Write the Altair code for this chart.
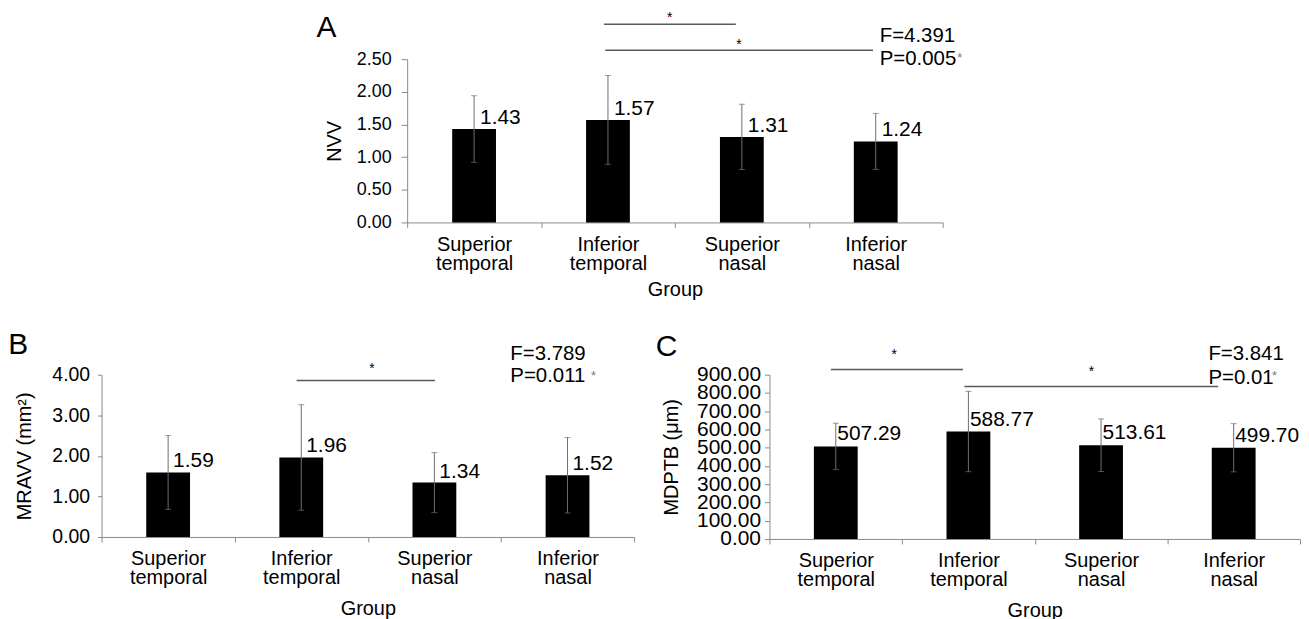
import altair as alt
import pandas as pd

FONT = "Liberation Sans"
GRAY_AXIS = "#8a8a8a"
GRAY_ERR = "#6e6e6e"
GRAY_SIG = "#5a5a5a"

CATS = ["Superior temporal", "Inferior temporal", "Superior nasal", "Inferior nasal"]

# Panel A: NVV
A_MEAN = [1.43, 1.57, 1.31, 1.24]
A_SD = [0.51, 0.68, 0.50, 0.43]
A_TICKS = [0.0, 0.5, 1.0, 1.5, 2.0, 2.5]
A_STATS = ["F=4.391", "P=0.005"]
A_PAIRS = [("Inferior temporal", "Superior nasal"), ("Inferior temporal", "Inferior nasal")]

# Panel B: MRAVV
B_MEAN = [1.59, 1.96, 1.34, 1.52]
B_SD = [0.91, 1.30, 0.74, 0.93]
B_TICKS = [0.0, 1.0, 2.0, 3.0, 4.0]
B_STATS = ["F=3.789", "P=0.011"]
B_PAIRS = [("Inferior temporal", "Superior nasal")]

# Panel C: MDPTB
C_MEAN = [507.29, 588.77, 513.61, 499.70]
C_SD = [127.0, 220.0, 144.0, 132.0]
C_TICKS = [0, 100, 200, 300, 400, 500, 600, 700, 800, 900]
C_STATS = ["F=3.841", "P=0.01"]
C_PAIRS = [("Superior temporal", "Inferior temporal"), ("Inferior temporal", "Inferior nasal")]


def panel(letter, means, sds, ticks, ytitle, pairs, stats, lay):
    df = pd.DataFrame({
        "cat": CATS,
        "mean": means,
        "lo": [m - s for m, s in zip(means, sds)],
        "hi": [m + s for m, s in zip(means, sds)],
    })
    xscale = alt.Scale(domain=CATS, paddingInner=0, paddingOuter=0)
    yscale = alt.Scale(domain=[ticks[0], ticks[-1]], nice=False)
    xaxis = alt.Axis(tickBand="extent", labelExpr="split(datum.label, ' ')", labelAngle=0,
                     labelFontSize=20, labelLineHeight=19, labelPadding=7, tickSize=5,
                     tickColor=GRAY_AXIS, domainColor=GRAY_AXIS, labelColor="black",
                     titleFontSize=20, titleFontWeight="normal", titlePadding=lay["xtp"],
                     titleColor="black", labelFont=FONT, titleFont=FONT, grid=False)
    yaxis = alt.Axis(values=ticks, format=".2f", tickSize=lay["ytick"], labelPadding=lay["ypad"],
                     labelFontSize=lay["yfs"], labelOverlap=False, grid=False,
                     tickColor=GRAY_AXIS, domainColor=GRAY_AXIS, labelColor="black",
                     titleFontSize=20, titleFontWeight="normal", titlePadding=lay["ytp"],
                     titleColor="black", labelFont=FONT, titleFont=FONT)

    def X(field, bp=None):
        kw = {}
        if bp is not None:
            kw["bandPosition"] = bp
        return alt.X(f"{field}:N", scale=xscale, title="Group", axis=xaxis, **kw)

    def Y(field):
        return alt.Y(f"{field}:Q", scale=yscale, title=ytitle, axis=yaxis)

    base = alt.Chart(df)
    bars = base.mark_bar(size=44, color="black").encode(x=X("cat"), y=Y("mean"))
    err = base.mark_rule(color=GRAY_ERR, strokeWidth=1).encode(x=X("cat"), y=Y("lo"), y2=alt.Y2("hi:Q"))
    cap_hi = base.mark_tick(color=GRAY_ERR, thickness=1, size=6).encode(x=X("cat"), y=Y("hi"))
    cap_lo = base.mark_tick(color=GRAY_ERR, thickness=1, size=6).encode(x=X("cat"), y=Y("lo"))
    labels = base.mark_text(align="left", baseline="alphabetic", dx=lay["ldx"], dy=lay["ldy"],
                            fontSize=21, font=FONT, color="black").encode(
        x=X("cat"), y=Y("mean"), text=alt.Text("mean:Q", format=".2f"))

    layers = [bars, err, cap_hi, cap_lo, labels]

    for (a, b), lvl, (bpa, bpb) in zip(pairs, lay["sig_levels"], lay["sig_bp"]):
        d = pd.DataFrame({"from": [a], "to": [b], "level": [lvl]})
        layers.append(alt.Chart(d).mark_rule(color=GRAY_SIG, strokeWidth=1.5).encode(
            x=X("from", bpa), x2=alt.X2("to:N", bandPosition=bpb), y=Y("level")))

    for cat, lvl, dx in lay["stars"]:
        d = pd.DataFrame({"cat": [cat], "level": [lvl], "t": ["*"]})
        layers.append(alt.Chart(d).mark_text(align="center", baseline="alphabetic", dx=dx,
                                             fontSize=14, font=FONT, color="black").encode(
            x=X("cat"), y=Y("level"), text="t:N"))

    st = pd.DataFrame({"cat": [CATS[-1]] * len(stats), "t": stats, "level": lay["stat_levels"]})
    layers.append(alt.Chart(st).mark_text(align="left", baseline="alphabetic", dx=lay["stat_dx"],
                                          fontSize=20.5, font=FONT, color="black").encode(
        x=X("cat"), y=Y("level"), text="t:N"))
    ps = pd.DataFrame({"cat": [CATS[-1]], "t": ["*"], "level": [lay["pstar_level"]]})
    layers.append(alt.Chart(ps).mark_text(align="left", baseline="alphabetic", dx=lay["pstar_dx"],
                                          fontSize=13, font=FONT, color="#7a7a7a").encode(
        x=X("cat"), y=Y("level"), text="t:N"))

    # panel letter
    pl = pd.DataFrame({"cat": [CATS[0]], "t": [letter], "level": [lay["letter_level"]]})
    layers.append(alt.Chart(pl).mark_text(align="left", baseline="alphabetic", dx=lay["letter_dx"],
                                          fontSize=30, font=FONT, color="black").encode(
        x=X("cat"), y=Y("level"), text="t:N"))

    return alt.layer(*layers).properties(width=lay["w"], height=lay["h"])


A = panel("A", A_MEAN, A_SD, A_TICKS, "NVV", A_PAIRS, A_STATS, dict(
    w=538, h=164, ytick=6, ypad=10, yfs=18, ytp=12, xtp=6, ldx=6, ldy=-5,
    sig_levels=[3.034, 2.637], sig_bp=[(0.47, 0.455), (0.48, 0.48)],
    stars=[("Inferior temporal", 3.064, 62), ("Superior nasal", 2.652, -3)],
    stat_levels=[2.759, 2.409], stat_dx=4, pstar_level=2.459, pstar_dx=82,
    letter_level=2.835, letter_dx=-158.25))

B = panel("B", B_MEAN, B_SD, B_TICKS, "MRAVV (mm²)", B_PAIRS, B_STATS, dict(
    w=535, h=163, ytick=4, ypad=8, yfs=19.5, ytp=17, xtp=11, ldx=5, ldy=-5,
    sig_levels=[3.860], sig_bp=[(0.465, 0.505)],
    stars=[("Inferior temporal", 4.049, 71)],
    stat_levels=[4.351, 3.821], stat_dx=-57.5, pstar_level=3.882, pstar_dx=23.5,
    letter_level=4.515, letter_dx=-160.6))

C = panel("C", C_MEAN, C_SD, C_TICKS, "MDPTB (μm)", C_PAIRS, C_STATS, dict(
    w=533, h=165, ytick=5, ypad=4, yfs=21, ytp=15, xtp=11, ldx=1.5, ldy=-6,
    sig_levels=[929, 836], sig_bp=[(0.463, 0.459), (0.469, 0.383)],
    stars=[("Superior temporal", 985, 58.6), ("Superior nasal", 895, -9.7)],
    stat_levels=[978, 851], stat_dx=-25.4, pstar_level=872, pstar_dx=38.6,
    letter_level=1005, letter_dx=-180.9))

spacer = alt.Chart(pd.DataFrame({"v": [0]})).mark_point(opacity=0).encode(
    x=alt.X("v:Q", axis=None), y=alt.Y("v:Q", axis=None)).properties(width=1, height=1)

top = alt.hconcat(spacer, A, spacing=306, bounds="flush")
bottom = alt.hconcat(B, C, spacing=136, bounds="flush")

chart = alt.vconcat(top, bottom, spacing=317, bounds="flush").properties(
    padding={"left": 0, "top": 2, "right": 0, "bottom": 0}
).configure_view(stroke=None).configure_text(font=FONT)

chart.save("out.html", embed_options={"renderer": "svg", "actions": False})
